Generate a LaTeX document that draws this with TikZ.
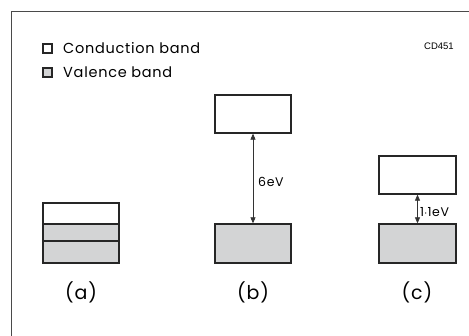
\documentclass[tikz,border=0pt]{standalone}
\usepackage{fontspec}
\setmainfont{Poppins}[LetterSpace=5]
\newfontfamily\codefont{Liberation Sans}
\usetikzlibrary{arrows.meta}
\definecolor{frame}{HTML}{4A4A4A}
\definecolor{valence}{HTML}{D3D4D5}
\tikzset{
  band/.style={draw=black!85, line width=1.3pt},
  cband/.style={band, fill=white},
  vband/.style={band, fill=valence},
  gap/.style={draw=black!80, line width=0.7pt, {Triangle[length=6pt,width=5pt]}-{Triangle[length=6pt,width=5pt]}},
  lbl/.style={font=\fontsize{19}{19}\selectfont, inner sep=0pt},
  legtext/.style={font=\fontsize{14.5}{14.5}\selectfont, anchor=west, inner sep=0pt},
  evtext/.style={font=\fontsize{12.5}{12.5}\selectfont, anchor=west, inner sep=0pt}
}
\begin{document}
\begin{tikzpicture}[x=1pt,y=-1pt]
\useasboundingbox (0,0) rectangle (469,336);
\fill[white] (0,0) rectangle (469,336);
% frame (left and top only)
\draw[frame, line width=1.6pt] (11.5,336) -- (11.5,11.5) -- (469,11.5);
% legend
\node[cband, minimum width=9pt, minimum height=9pt, inner sep=0pt, line width=1.2pt] (lc) at (47.5,48.5) {};
\node[legtext] (tc) at (63,48.5) {Conduction band};
\node[vband, minimum width=9pt, minimum height=9pt, inner sep=0pt, line width=1.2pt] (lv) at (47.5,72.5) {};
\node[legtext] (tv) at (63,72) {Valence band};
\node[font=\codefont\fontsize{9.5}{9.5}\selectfont, inner sep=0pt] (code) at (439,46) {CD451};
% (a)
\draw[cband] (43,203) rectangle (119,224);
\draw[vband] (43,224) rectangle (119,241);
\draw[vband] (43,241) rectangle (119,263);
\node[lbl] (la) at (81,292) {(a)};
% (b)
\node[cband, minimum width=76pt, minimum height=38pt, inner sep=0pt] (bc) at (253,114) {};
\node[vband, minimum width=76pt, minimum height=39pt, inner sep=0pt] (bv) at (253,243.5) {};
\draw[gap] (bc.south) -- (bv.north);
\node[evtext] (bev) at (258,182) {6eV};
\node[lbl] (lb) at (253,292) {(b)};
% (c)
\node[cband, minimum width=77pt, minimum height=38pt, inner sep=0pt] (cc) at (417.5,175) {};
\node[vband, minimum width=77pt, minimum height=39pt, inner sep=0pt] (cv) at (417.5,243.5) {};
\draw[gap] (cc.south) -- (cv.north);
\node[evtext] (cev) at (420,212) {1$\cdot$1eV};
\node[lbl] (lcx) at (417,292) {(c)};
\end{tikzpicture}
\end{document}
